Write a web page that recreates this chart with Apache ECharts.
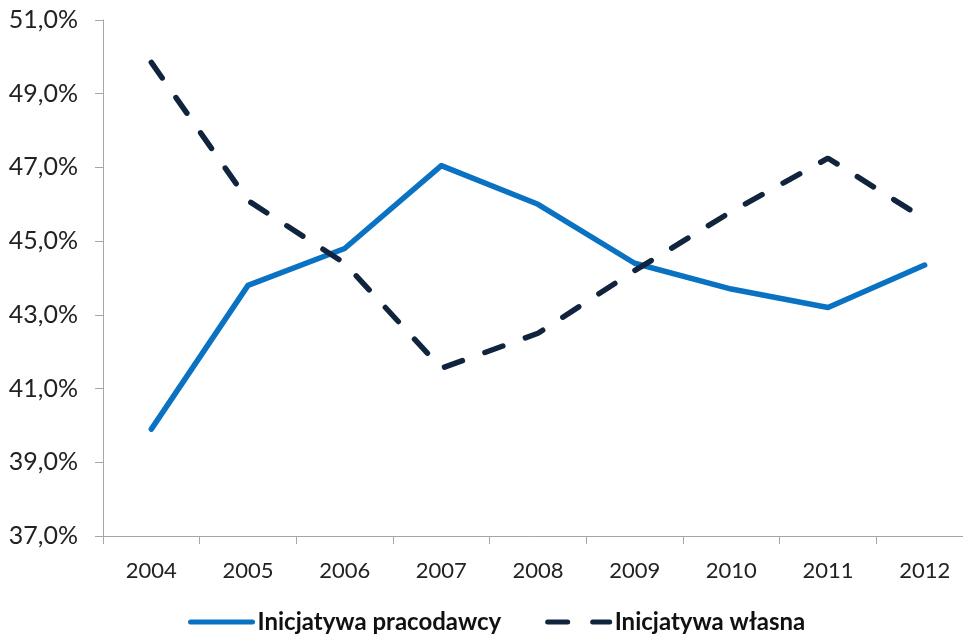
<!DOCTYPE html>
<html><head><meta charset="utf-8">
<script src="https://cdn.jsdelivr.net/npm/echarts@6/dist/echarts.min.js"></script>
<style>html,body{margin:0;padding:0;background:#fff}#c{width:963px;height:638px}</style>
</head><body><div id="c"></div>
<script>
const years = ['2004','2005','2006','2007','2008','2009','2010','2011','2012'];
const pracodawcy = [39.9, 43.8, 44.8, 47.05, 46.0, 44.4, 43.7, 43.2, 44.35];
const wlasna = [49.85, 46.1, 44.4, 41.55, 42.5, 44.2, 45.8, 47.25, 45.6];
const yTicks = {min: 37, max: 51, interval: 2};

const chart = echarts.init(document.getElementById('c'));
chart.setOption({
  animation: false,
  grid: {left: 103, width: 870, top: 20, bottom: 102, containLabel: false, outerBoundsMode: 'none'},
  legend: {
    left: 183, top: 605, itemWidth: 62, itemHeight: 14, itemGap: 44,
    itemStyle: {opacity: 0},
    lineStyle: {width: 5},
    textStyle: {fontFamily: 'Lato', fontWeight: 'bold', fontSize: 24, color: '#111'},
    data: [
      {name: 'Inicjatywa pracodawcy'},
      {name: 'Inicjatywa własna', lineStyle: {type: [20, 25], width: 5}}
    ]
  },
  xAxis: {
    type: 'category', data: years, boundaryGap: true,
    axisLine: {lineStyle: {color: '#a6a6a6', width: 1}},
    axisTick: {show: true, length: 8, lineStyle: {color: '#a6a6a6'}},
    axisLabel: {fontFamily: 'Lato', fontSize: 22, color: '#222', margin: 24}
  },
  yAxis: {
    type: 'value', min: yTicks.min, max: yTicks.max, interval: yTicks.interval,
    axisLine: {show: true, lineStyle: {color: '#a6a6a6', width: 1}},
    axisTick: {show: true, length: 8, lineStyle: {color: '#a6a6a6'}},
    splitLine: {show: false},
    axisLabel: {fontFamily: 'Lato', fontSize: 25, color: '#222', margin: 25,
      formatter: v => v.toFixed(1).replace('.', ',') + '%'}
  },
  series: [
    {name: 'Inicjatywa pracodawcy', type: 'line', data: pracodawcy, symbol: 'none',
     lineStyle: {color: '#0a72c2', width: 5.5, cap: 'round', join: 'round'},
     itemStyle: {color: '#0a72c2'}},
    {name: 'Inicjatywa własna', type: 'line', data: wlasna, symbol: 'none',
     lineStyle: {color: '#10243e', width: 5.5, type: [19, 24], cap: 'round'},
     itemStyle: {color: '#10243e'}}
  ]
});
</script></body></html>
